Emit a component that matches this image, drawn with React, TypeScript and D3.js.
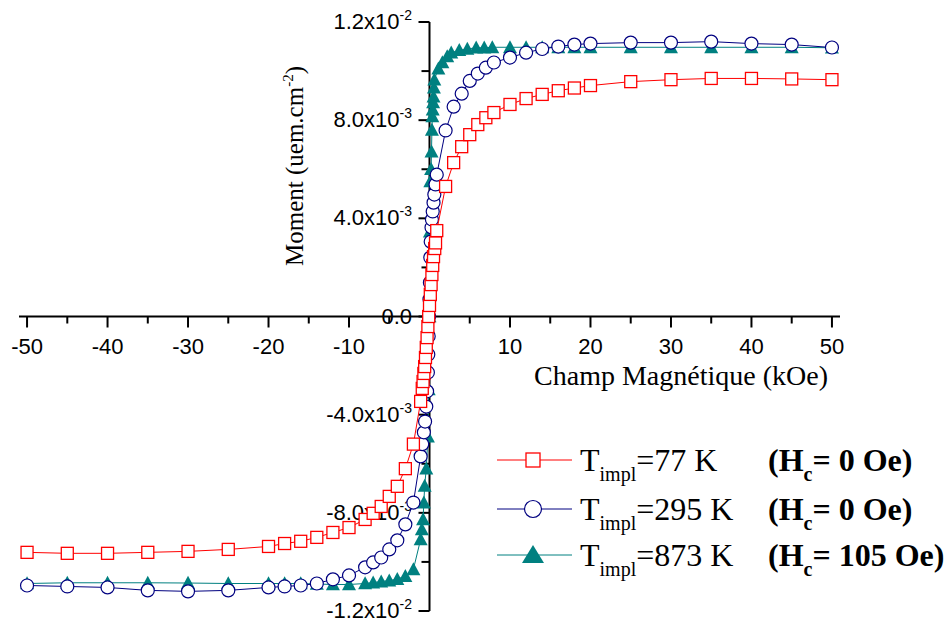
import React from "react";
import * as d3 from "d3";

// ---- data (field in kOe, moment in 1e-3 uem.cm^-2) ----
const fieldRed = [-50,-45,-40,-35,-30,-25,-20,-18,-16,-14,-12,-10,-8,-7,-6,-5,-4,-3,-2,-1.1,-0.9,-0.8,-0.7,-0.6,-0.5,-0.4,-0.3,-0.2,-0.1,0,0.1,0.2,0.3,0.4,0.5,0.65,0.75,0.9,2,3,4,5,6,7,8,10,12,14,16,18,20,25,30,35,40,45,50];
const momentRed = [-9.61,-9.65,-9.65,-9.61,-9.57,-9.49,-9.37,-9.25,-9.16,-9.0,-8.8,-8.6,-8.27,-8.02,-7.74,-7.33,-6.92,-6.2,-5.2,-3.46,-2.93,-2.65,-2.32,-2.04,-1.67,-1.26,-0.86,-0.41,0,0.45,0.9,1.3,1.71,2.08,2.44,2.77,3.0,3.5,5.3,6.27,6.92,7.41,7.82,8.1,8.31,8.64,8.88,9.05,9.2,9.31,9.41,9.57,9.65,9.7,9.7,9.68,9.65];

const fieldBlue = [-50,-45,-40,-35,-30,-25,-20,-18,-16,-14,-12,-10,-8,-7,-6,-5,-4,-3,-2,-1.1,-0.9,-0.7,-0.55,-0.4,-0.3,-0.2,-0.15,-0.1,-0.05,0,0.05,0.1,0.15,0.25,0.3,0.4,0.5,0.6,0.75,0.9,2,3,4,5,6,7,8,10,12,14,16,18,20,25,30,35,40,45,50];
const momentBlue = [-10.96,-11.0,-11.04,-11.16,-11.2,-11.16,-11.04,-11.0,-10.96,-10.88,-10.71,-10.55,-10.22,-10.02,-9.82,-9.49,-9.12,-8.47,-7.58,-5.7,-5.2,-4.72,-4.28,-3.67,-3.05,-2.28,-1.55,-0.8,0,0.7,1.38,2.4,3.05,3.63,3.95,4.28,4.64,4.97,5.38,5.78,7.58,8.55,9.08,9.6,9.9,10.14,10.35,10.55,10.75,10.9,11.0,11.08,11.12,11.16,11.16,11.2,11.12,11.08,10.96];

const fieldTeal = [-50,-45,-40,-35,-30,-25,-20,-18,-16,-14,-12,-10,-8,-7,-6,-5,-4,-3,-2,-1.1,-0.95,-0.8,-0.7,-0.6,-0.4,-0.2,-0.1,0,0.05,0.1,0.2,0.25,0.3,0.35,0.4,0.45,0.5,0.55,0.6,1.1,1.6,2.2,2.7,3.7,4.7,5.8,6.8,7.8,10,12,14,16,18,20,25,30,35,40,45,50];
const momentTeal = [-10.88,-10.85,-10.85,-10.85,-10.86,-10.88,-10.88,-10.88,-10.88,-10.9,-10.92,-10.92,-10.88,-10.84,-10.8,-10.76,-10.7,-10.58,-10.3,-9.08,-8.68,-8.27,-7.58,-6.9,-6.2,-4.9,-2.97,0,3.46,5.5,6.0,6.72,7.6,8.15,8.43,8.72,8.96,9.33,9.65,10.1,10.35,10.6,10.75,10.85,10.9,10.95,10.95,10.97,10.97,10.97,10.97,10.97,10.97,10.97,10.97,10.97,10.97,10.97,10.97,10.95];

const xMajorTicks = [-50,-40,-30,-20,-10,10,20,30,40,50];
const xMinorTicks = [-45,-35,-25,-15,-5,5,15,25,35,45];
const yMajorTicks = [-12,-8,-4,0,4,8,12];
const yMinorTicks = [-10,-6,-2,2,6,10];
const yTickMantissa = ["-1.2","-8.0","-4.0","0.0","4.0","8.0","1.2"];
const yTickExponent = ["-2","-3","-3","","-3","-3","-2"];

const legendLabels = ["77 K", "295 K", "873 K"];
const legendHc = ["0 Oe)", "0 Oe)", "105 Oe)"];

const RED = "#ff0000";
const NAVY = "#000080";
const TEAL = "#008080";

const W = 950, H = 622;
const x = d3.scaleLinear().domain([-51, 51]).range([19, 840]);
const y = d3.scaleLinear().domain([-12, 12]).range([611, 22]);

const line = d3.line<[number, number]>().x(d => x(d[0])).y(d => y(d[1]));
const zip = (a: number[], b: number[]) => a.map((v, i) => [v, b[i]] as [number, number]);

const sans = "'Liberation Sans', Arial, sans-serif";
const serif = "'Liberation Serif', 'Times New Roman', serif";

function Square({ cx, cy, s, color }: any) {
  return <rect x={cx - s / 2} y={cy - s / 2} width={s} height={s} fill="#fff" stroke={color} strokeWidth={1.3} />;
}
function Circle({ cx, cy, r, color }: any) {
  return <circle cx={cx} cy={cy} r={r} fill="#fff" stroke={color} strokeWidth={1.2} />;
}
function Tri({ cx, cy, w, h, color }: any) {
  const p = `M${cx},${cy - h * 0.55} L${cx + w / 2},${cy + h * 0.45} L${cx - w / 2},${cy + h * 0.45} Z`;
  return <path d={p} fill={color} />;
}

export default function App() {
  const red = zip(fieldRed, momentRed);
  const blue = zip(fieldBlue, momentBlue);
  const teal = zip(fieldTeal, momentTeal);
  const y0 = y(0);
  const x0 = x(0);
  const legendY = [460, 509, 555];
  return (
    <svg width={W} height={H} style={{ position: "absolute", left: 0, top: 0, background: "#fff" }}>
      {/* axes */}
      <line x1={x(-51)} x2={x(51)} y1={y0} y2={y0} stroke="#000" strokeWidth={2} />
      <line x1={x0} x2={x0} y1={y(12)} y2={y(-12)} stroke="#000" strokeWidth={2} />
      {xMajorTicks.map(t => (
        <line key={"xM" + t} x1={x(t)} x2={x(t)} y1={y0} y2={y0 + 11} stroke="#000" strokeWidth={2} />
      ))}
      {xMinorTicks.map(t => (
        <line key={"xm" + t} x1={x(t)} x2={x(t)} y1={y0} y2={y0 + 7} stroke="#000" strokeWidth={2} />
      ))}
      {xMajorTicks.map(t => (
        <text key={"xl" + t} x={x(t)} y={y0 + 37} textAnchor="middle" fontFamily={sans} fontSize={22}>{t}</text>
      ))}
      {yMajorTicks.map(t => (
        <line key={"yM" + t} x1={x0 - 11} x2={x0} y1={y(t)} y2={y(t)} stroke="#000" strokeWidth={2} />
      ))}
      {yMinorTicks.map(t => (
        <line key={"ym" + t} x1={x0 - 8} x2={x0} y1={y(t)} y2={y(t)} stroke="#000" strokeWidth={2} />
      ))}
      {yMajorTicks.map((t, i) => (
        <text key={"yl" + t} x={412} y={y(t) + 7} textAnchor="end" fontFamily={sans} fontSize={22}>
          {yTickExponent[i] ? <>{yTickMantissa[i]}x10<tspan dy={-9} fontSize={14}>{yTickExponent[i]}</tspan></> : yTickMantissa[i]}
        </text>
      ))}
      {/* axis titles */}
      <text transform={`translate(303,166) rotate(-90)`} textAnchor="middle" fontFamily={serif} fontSize={25}>
        Moment (uem.cm<tspan dy={-10} fontSize={15}>-2</tspan><tspan dy={10}>)</tspan>
      </text>
      <text x={681} y={385} textAnchor="middle" fontFamily={serif} fontSize={28}>Champ Magnétique (kOe)</text>

      {/* series: teal, navy, red */}
      <path d={line(teal) || ""} fill="none" stroke={TEAL} strokeWidth={1} />
      {teal.map((d, i) => <Tri key={"t" + i} cx={x(d[0])} cy={y(d[1])} w={14} h={13} color={TEAL} />)}
      <path d={line(blue) || ""} fill="none" stroke={NAVY} strokeWidth={1} />
      {blue.map((d, i) => <Circle key={"b" + i} cx={x(d[0])} cy={y(d[1])} r={6.5} color={NAVY} />)}
      <path d={line(red) || ""} fill="none" stroke={RED} strokeWidth={1} />
      {red.map((d, i) => <Square key={"r" + i} cx={x(d[0])} cy={y(d[1])} s={12} color={RED} />)}

      {/* legend */}
      {legendLabels.map((lab, i) => {
        const cy = legendY[i];
        const color = [RED, NAVY, TEAL][i];
        return (
          <g key={"lg" + i}>
            <line x1={497} x2={572} y1={cy} y2={cy} stroke={color} strokeWidth={1} />
            {i === 0 && <Square cx={533} cy={cy} s={14} color={color} />}
            {i === 1 && <Circle cx={533} cy={cy} r={8.5} color={color} />}
            {i === 2 && <Tri cx={533} cy={cy} w={22} h={18} color={color} />}
            <text x={580} y={cy + 11} fontFamily={serif} fontSize={32}>
              T<tspan dy={10} fontSize={20}>impl</tspan><tspan dy={-10}>={lab}</tspan>
            </text>
            <text x={768} y={cy + 11} fontFamily={serif} fontSize={32} fontWeight="bold">
              (H<tspan dy={10} fontSize={20}>c</tspan><tspan dy={-10}>= {legendHc[i]}</tspan>
            </text>
          </g>
        );
      })}
    </svg>
  );
}
